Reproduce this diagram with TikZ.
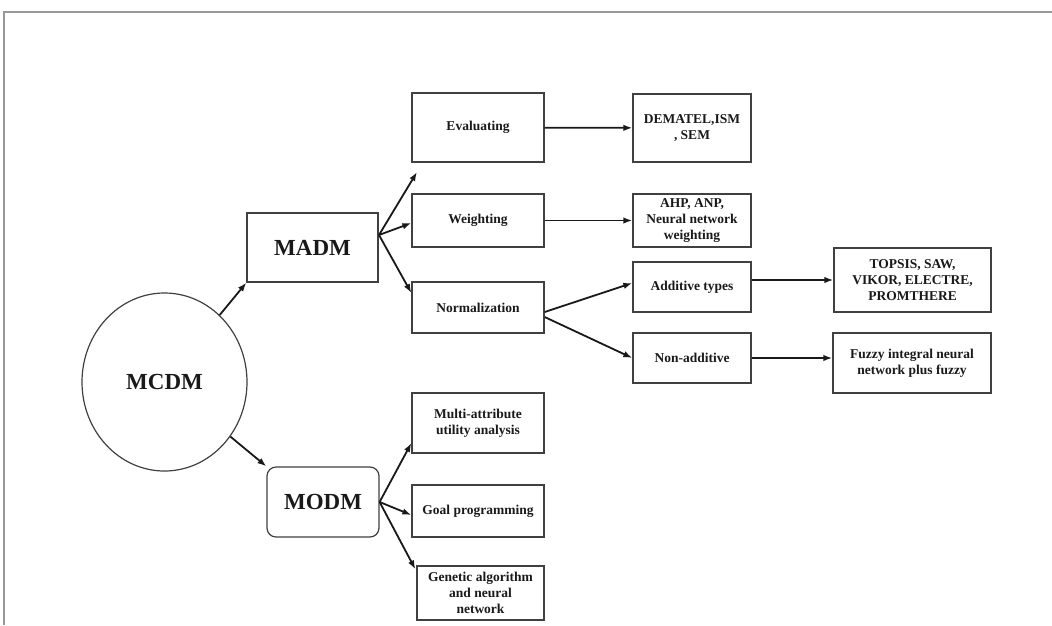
\documentclass[tikz,border=0pt]{standalone}
\usepackage{fontspec}
\setmainfont{Liberation Serif}
\usetikzlibrary{arrows.meta,shapes.geometric}

\begin{document}
\begin{tikzpicture}[x=1pt,y=-1pt,
    box/.style ={rectangle, draw=black!75, line width=1.3pt, inner sep=0pt, align=center, text=black!90,
      font=\fontsize{13.5}{16}\selectfont\bfseries},
    topbox/.style ={draw=black!75, line width=1.2pt, inner sep=0pt, text=black!90,
      font=\fontsize{23}{27}\selectfont\bfseries},
    link/.style ={line width=1.8pt, black!90, -{Latex[length=9pt,width=6.5pt]}}]
   \useasboundingbox (0,0) rectangle (1052,625);
   \draw[black!40, line width=1.6pt] (4,625) -- (4,12) -- (1052,12);
   % top levels
   \node[topbox, ellipse, minimum width=165, minimum height=178] (mcdm) at (164.5,382) {MCDM};
   \node[topbox, rectangle, minimum width=131, minimum height=69] (madm) at (312.5,247.5) {MADM};
   \node[topbox, rectangle, rounded corners=9pt, minimum width=112, minimum height=70] (modm) at (323,502) {MODM};
   % MADM branch
   \node[box, minimum width=132, minimum height=69] (eval)   at (478,127.5) {Evaluating};
   \node[box, minimum width=132, minimum height=53] (weight) at (478,220.5) {Weighting};
   \node[box, minimum width=132, minimum height=51] (norm)   at (478,307.5) {Normalization};
   \node[box, minimum width=118, minimum height=68] (dematel) at (692,128) {DEMATEL,ISM\\, SEM};
   \node[box, minimum width=118, minimum height=53] (ahp)     at (692,220.5) {AHP, ANP,\\Neural network\\weighting};
   \node[box, minimum width=118, minimum height=50] (add)     at (692,287) {Additive types};
   \node[box, minimum width=118, minimum height=50] (nonadd)  at (692,358) {Non-additive};
   \node[box, minimum width=157, minimum height=64] (topsis)  at (912.5,280) {TOPSIS, SAW,\\VIKOR, ELECTRE,\\PROMTHERE};
   \node[box, minimum width=158, minimum height=60] (fuzzy)   at (912,363) {Fuzzy integral neural\\network plus fuzzy};
   % MODM branch
   \node[box, minimum width=132, minimum height=60] (multi) at (478,423) {Multi-attribute\\utility analysis};
   \node[box, minimum width=132, minimum height=52] (goal)  at (478,511) {Goal programming};
   \node[box, minimum width=127, minimum height=54] (gen)   at (480.5,593) {Genetic algorithm\\and neural\\network};
   \coordinate (madmout) at (379,235);
   \coordinate (evalin) at (417,172);

   \draw[link] (mcdm) -- (madm.south west);
   \draw[link] (mcdm) -- (modm.north west);
   \draw[link] (madmout) -- (evalin);
   \draw[link] (madmout) -- ([yshift=-2.5pt]weight.west);
   \draw[link] (madmout) -- ([yshift=14.5pt]norm.west);
   \draw[link] (eval) -- (dematel);
   \draw[link] (weight) -- (ahp);
   \draw[link] ([yshift=-4.5pt]norm.east) -- ([yshift=4pt]add.west);
   \draw[link] ([yshift=-9.5pt]norm.east) -- (nonadd.west);
   \draw[link] (topsis.west -| add.east) -- (topsis.west);
   \draw[link] (nonadd.east) -- (nonadd.east -| fuzzy.west);
   \draw[link] (modm.east) -- ([yshift=-20pt]multi.west);
   \draw[link] (modm.east) -- ([yshift=-4pt]goal.west);
   \draw[link] (modm.east) -- ([xshift=-1pt,yshift=-4pt]gen.north west);
 \end{tikzpicture}
\end{document}
